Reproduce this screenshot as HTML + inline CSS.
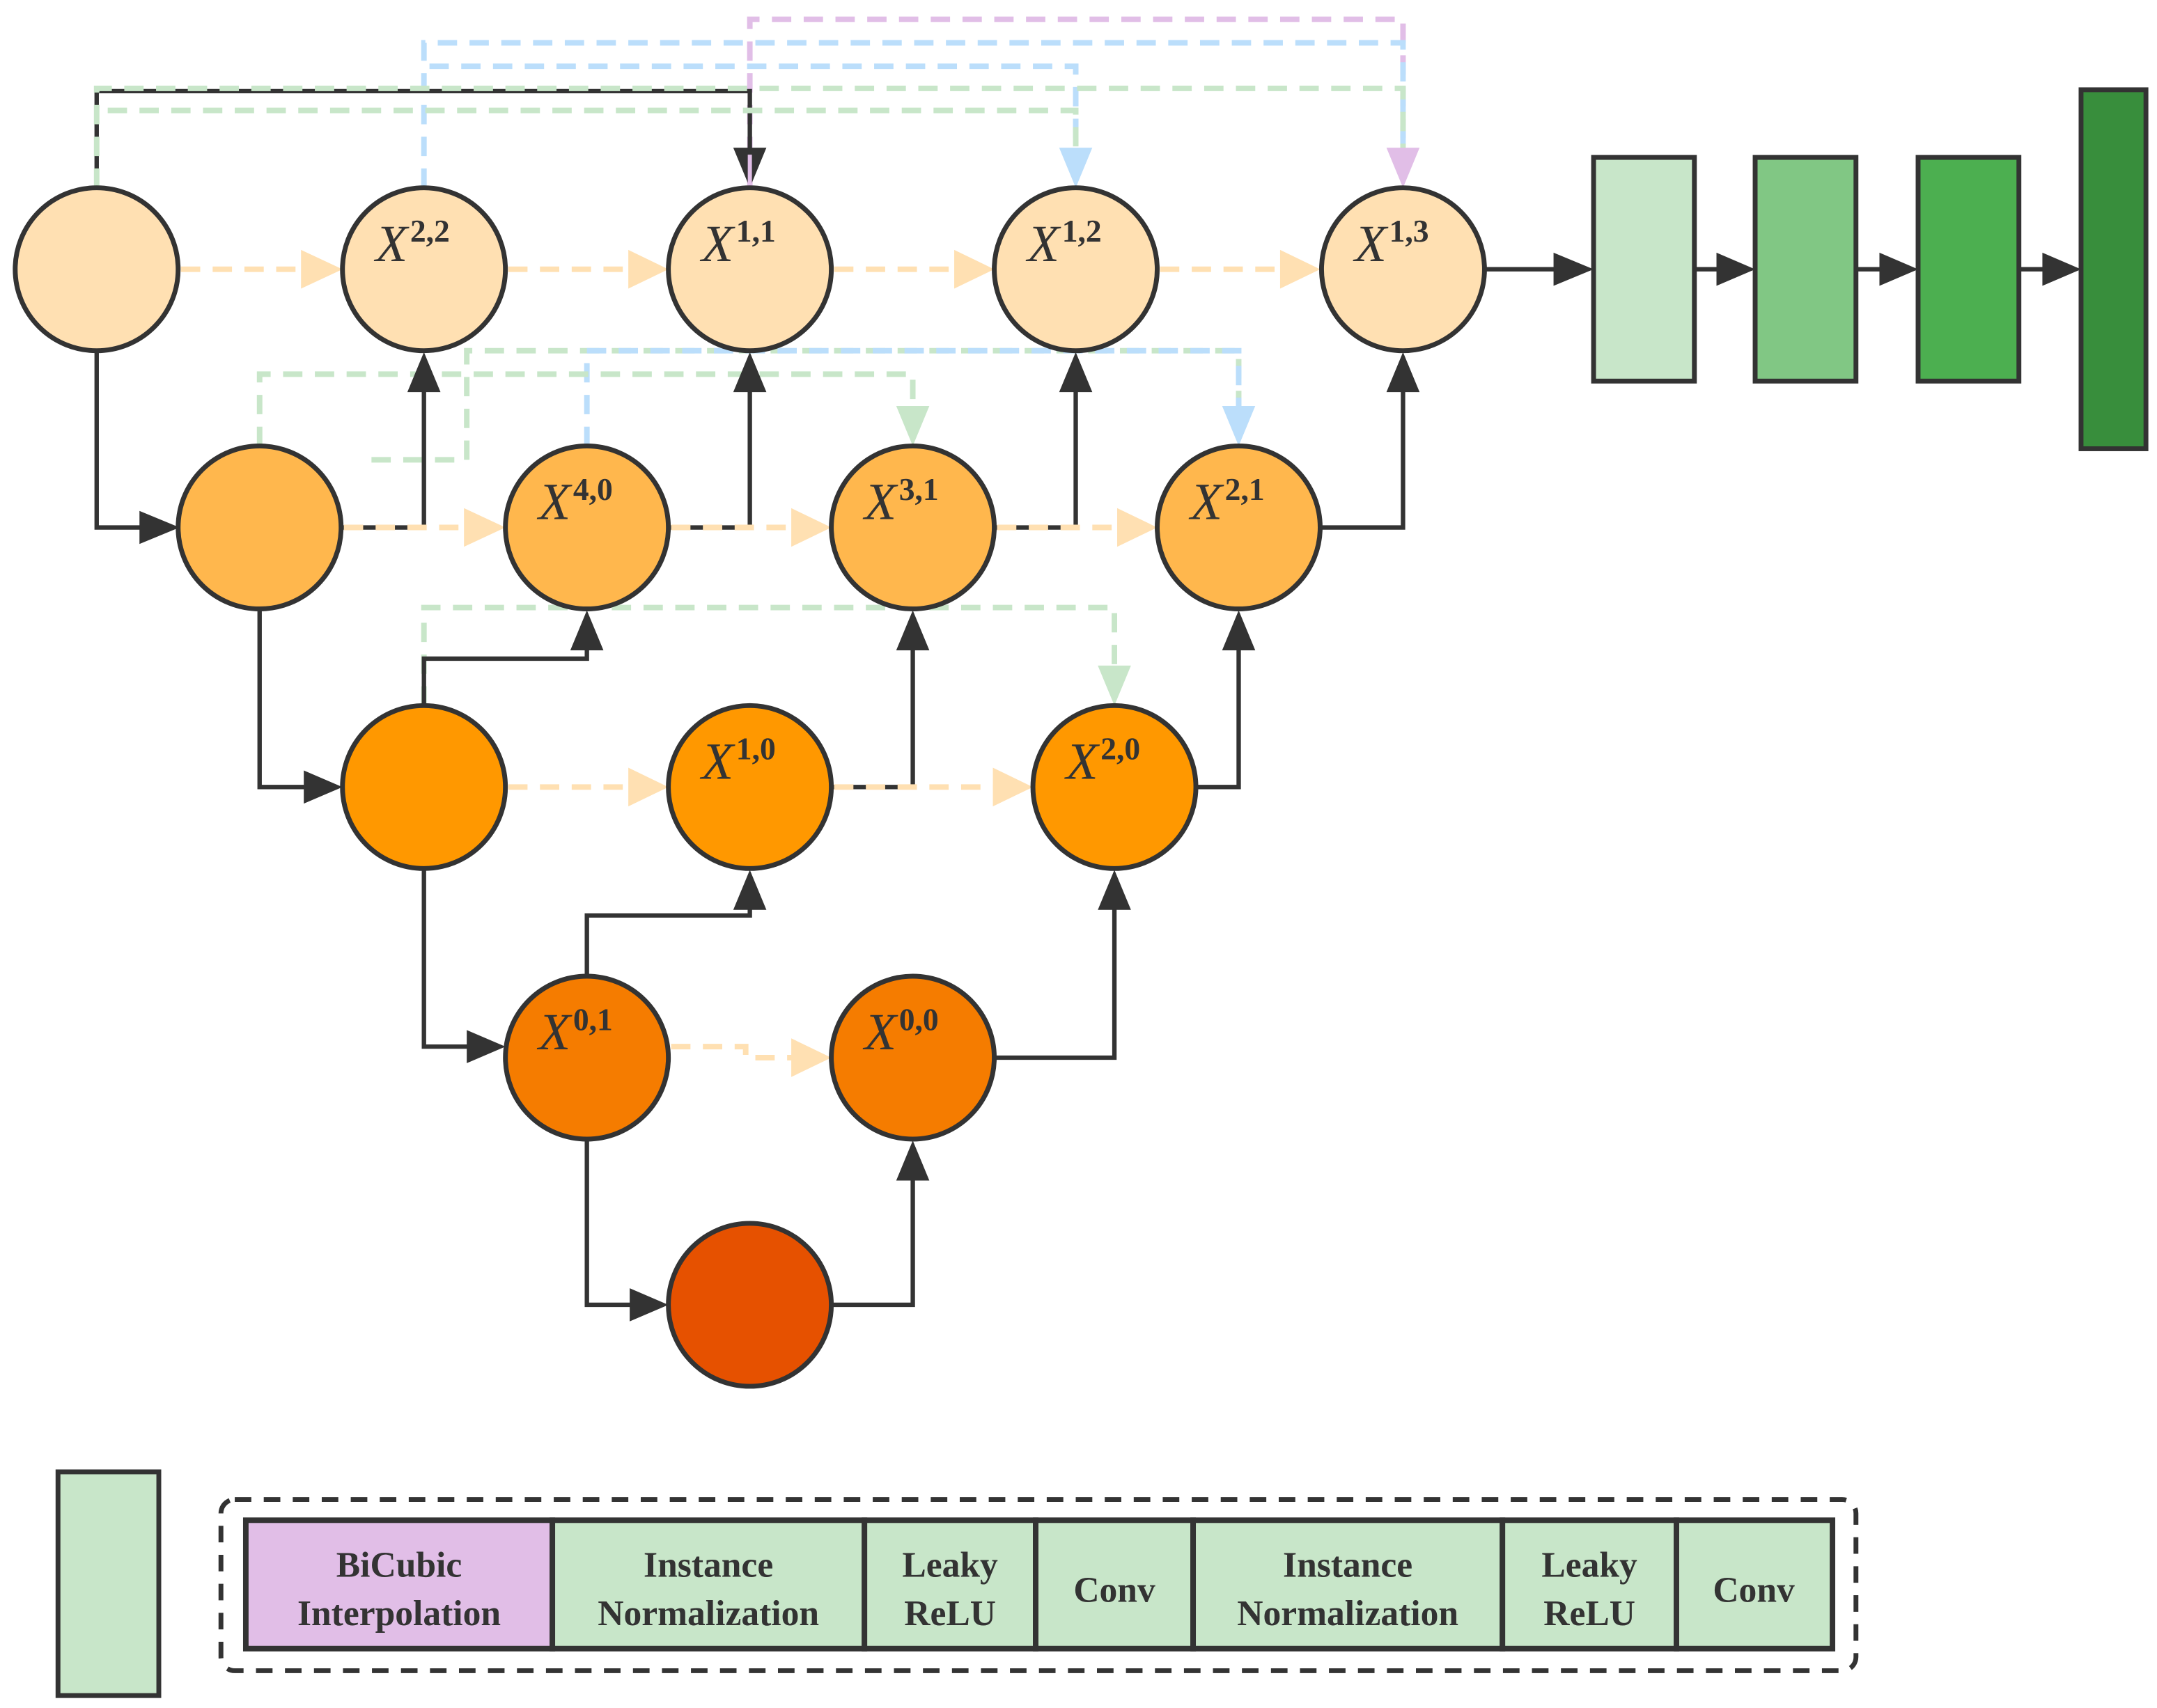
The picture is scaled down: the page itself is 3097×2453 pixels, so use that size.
<!DOCTYPE html>
<html><head><meta charset="utf-8"><style>
html,body{margin:0;padding:0;background:#fff;}
svg{display:block;}
.n{stroke:#333;stroke-width:3.5;}
.k{stroke:#333;stroke-width:3.2;fill:none;}
.o{stroke:#FFE0B2;stroke-width:4;fill:none;stroke-dasharray:14 9;}
.g{stroke:#C8E6C9;stroke-width:4;fill:none;stroke-dasharray:14 9;}
.b{stroke:#BBDEFB;stroke-width:4;fill:none;stroke-dasharray:14 9;}
.p{stroke:#E1BEE7;stroke-width:4;fill:none;stroke-dasharray:14 9;}
.lx{font-family:"Liberation Serif",serif;font-style:italic;font-size:38px;fill:#333;}
.ls{font-family:"Liberation Serif",serif;font-weight:bold;font-size:23px;fill:#333;}
.t{font-family:"Liberation Serif",serif;font-weight:bold;font-size:26px;fill:#333;text-anchor:middle;}
</style></head><body>
<svg width="3097" height="2453" viewBox="0 0 1562 1237" preserveAspectRatio="none" xmlns="http://www.w3.org/2000/svg">

<path class="p" d="M543,136 V14 H1016 V112"/>
<path class="b" d="M307,136 V31 H1016 V112"/>
<path class="b" d="M311,48 H779 V110"/>
<path class="k" d="M70,136 V66 H543 V112"/>
<path class="g" d="M70,136 V64 H1016 V112"/>
<path class="g" d="M78,80 H779 V110"/>

<path class="g" d="M269,333 H338 V254 H897 V298"/>
<path class="b" d="M425,323 V254 H897 V298"/>
<path class="g" d="M188,323 V271 H661 V298"/>
<path class="g" d="M307,511 V440 H807 V486"/>

<path class="k" d="M70,254 V382 H105"/>
<path class="k" d="M188,441 V570 H225"/>
<path class="k" d="M307,629 V758 H343"/>
<path class="k" d="M425,825 V945 H462"/>
<path class="k" d="M602,945 H661 V852"/>
<path class="k" d="M720,766 H807 V656"/>
<path class="k" d="M425,707 V663 H543 V656"/>
<path class="k" d="M602,570 H661 V468"/>
<path class="k" d="M866,570 H897 V468"/>
<path class="k" d="M307,511 V477 H425 V468"/>
<path class="k" d="M247,382 H307 V281"/>
<path class="k" d="M484,382 H543 V281"/>
<path class="k" d="M720,382 H779 V281"/>
<path class="k" d="M956,382 H1016 V281"/>
<path class="k" d="M1075,195 H1130"/>
<path class="k" d="M1227,195 H1248"/>
<path class="k" d="M1344,195 H1366"/>
<path class="k" d="M1462,195 H1484"/>

<g fill="#333">
<path d="M101,370 L130,382 L101,394z"/>
<path d="M220,558 L248,570 L220,582z"/>
<path d="M338,746 L366,758 L338,770z"/>
<path d="M456,933 L484,945 L456,957z"/>
<path d="M649,855 L661,826 L673,855z"/>
<path d="M795,659 L807,630 L819,659z"/>
<path d="M531,659 L543,630 L555,659z"/>
<path d="M649,471 L661,442 L673,471z"/>
<path d="M885,471 L897,442 L909,471z"/>
<path d="M413,471 L425,442 L437,471z"/>
<path d="M295,284 L307,255 L319,284z"/>
<path d="M531,284 L543,255 L555,284z"/>
<path d="M767,284 L779,255 L791,284z"/>
<path d="M1004,284 L1016,255 L1028,284z"/>
<path d="M531,107 L543,136 L555,107z"/>
<path d="M1125,183 L1154,195 L1125,207z"/>
<path d="M1243,183 L1271,195 L1243,207z"/>
<path d="M1361,183 L1389,195 L1361,207z"/>
<path d="M1479,183 L1507,195 L1479,207z"/>
</g>
<path d="M543,112 V136" stroke="#E1BEE7" stroke-width="3"/>
<path d="M767,107 L779,136 L791,107z" fill="#BBDEFB"/>
<path d="M1004,107 L1016,136 L1028,107z" fill="#E1BEE7"/>
<path d="M885,294 L897,323 L909,294z" fill="#BBDEFB"/>
<path d="M649,294 L661,323 L673,294z" fill="#C8E6C9"/>
<path d="M795,482 L807,511 L819,482z" fill="#C8E6C9"/>

<g>
<path class="o" d="M131,195 H225"/><path class="o" d="M368,195 H462"/><path class="o" d="M604,195 H698"/><path class="o" d="M840,195 H934"/>
<path class="o" d="M249,382 H343"/><path class="o" d="M486,382 H580"/><path class="o" d="M722,382 H816"/>
<path class="o" d="M368,570 H462"/><path class="o" d="M604,570 H726"/>
<path class="o" d="M486,758 H540 V766 H580"/>
</g>
<g fill="#FFE0B2">
<path d="M218,181 L248,195 L218,209z"/><path d="M455,181 L484,195 L455,209z"/><path d="M691,181 L720,195 L691,209z"/><path d="M927,181 L956,195 L927,209z"/>
<path d="M336,368 L366,382 L336,396z"/><path d="M573,368 L602,382 L573,396z"/><path d="M809,368 L838,382 L809,396z"/>
<path d="M455,556 L484,570 L455,584z"/><path d="M719,556 L748,570 L719,584z"/>
<path d="M573,752 L602,766 L573,780z"/>
</g>

<g class="n">
<circle cx="70" cy="195" r="59" fill="#FFE0B2"/>
<circle cx="307" cy="195" r="59" fill="#FFE0B2"/>
<circle cx="543" cy="195" r="59" fill="#FFE0B2"/>
<circle cx="779" cy="195" r="59" fill="#FFE0B2"/>
<circle cx="1016" cy="195" r="59" fill="#FFE0B2"/>
<circle cx="188" cy="382" r="59" fill="#FFB74D"/>
<circle cx="425" cy="382" r="59" fill="#FFB74D"/>
<circle cx="661" cy="382" r="59" fill="#FFB74D"/>
<circle cx="897" cy="382" r="59" fill="#FFB74D"/>
<circle cx="307" cy="570" r="59" fill="#FF9800"/>
<circle cx="543" cy="570" r="59" fill="#FF9800"/>
<circle cx="807" cy="570" r="59" fill="#FF9800"/>
<circle cx="425" cy="766" r="59" fill="#F57C00"/>
<circle cx="661" cy="766" r="59" fill="#F57C00"/>
<circle cx="543" cy="945" r="59" fill="#E65100"/>
</g>

<g>
<text x="272" y="189" class="lx">X</text><text x="297" y="175" class="ls">2,2</text>
<text x="508" y="189" class="lx">X</text><text x="533" y="175" class="ls">1,1</text>
<text x="744" y="189" class="lx">X</text><text x="769" y="175" class="ls">1,2</text>
<text x="981" y="189" class="lx">X</text><text x="1006" y="175" class="ls">1,3</text>
<text x="390" y="376" class="lx">X</text><text x="415" y="362" class="ls">4,0</text>
<text x="626" y="376" class="lx">X</text><text x="651" y="362" class="ls">3,1</text>
<text x="862" y="376" class="lx">X</text><text x="887" y="362" class="ls">2,1</text>
<text x="508" y="564" class="lx">X</text><text x="533" y="550" class="ls">1,0</text>
<text x="772" y="564" class="lx">X</text><text x="797" y="550" class="ls">2,0</text>
<text x="390" y="760" class="lx">X</text><text x="415" y="746" class="ls">0,1</text>
<text x="626" y="760" class="lx">X</text><text x="651" y="746" class="ls">0,0</text>
</g>

<g class="n">
<rect x="1154" y="114" width="73" height="162" fill="#C8E6C9"/>
<rect x="1271" y="114" width="73" height="162" fill="#81C784"/>
<rect x="1389" y="114" width="73" height="162" fill="#4CAF50"/>
<rect x="1507" y="65" width="47" height="260" fill="#388E3C"/>
</g>

<rect x="42" y="1066" width="73" height="162" fill="#C8E6C9" stroke="#333" stroke-width="3.5"/>
<rect x="160" y="1086" width="1184" height="124" rx="10" fill="none" stroke="#333" stroke-width="3.5" stroke-dasharray="12 9"/>
<g stroke="#333" stroke-width="4">
<rect x="178" y="1101" width="222" height="93" fill="#E1BEE7"/>
<rect x="400" y="1101" width="226" height="93" fill="#C8E6C9"/>
<rect x="626" y="1101" width="124" height="93" fill="#C8E6C9"/>
<rect x="750" y="1101" width="114" height="93" fill="#C8E6C9"/>
<rect x="864" y="1101" width="224" height="93" fill="#C8E6C9"/>
<rect x="1088" y="1101" width="126" height="93" fill="#C8E6C9"/>
<rect x="1214" y="1101" width="113" height="93" fill="#C8E6C9"/>
</g>
<g class="t">
<text x="289" y="1142">BiCubic</text><text x="289" y="1177">Interpolation</text>
<text x="513" y="1142">Instance</text><text x="513" y="1177">Normalization</text>
<text x="688" y="1142">Leaky</text><text x="688" y="1177">ReLU</text>
<text x="807" y="1160">Conv</text>
<text x="976" y="1142">Instance</text><text x="976" y="1177">Normalization</text>
<text x="1151" y="1142">Leaky</text><text x="1151" y="1177">ReLU</text>
<text x="1270" y="1160">Conv</text>
</g>
</svg>
</body></html>
